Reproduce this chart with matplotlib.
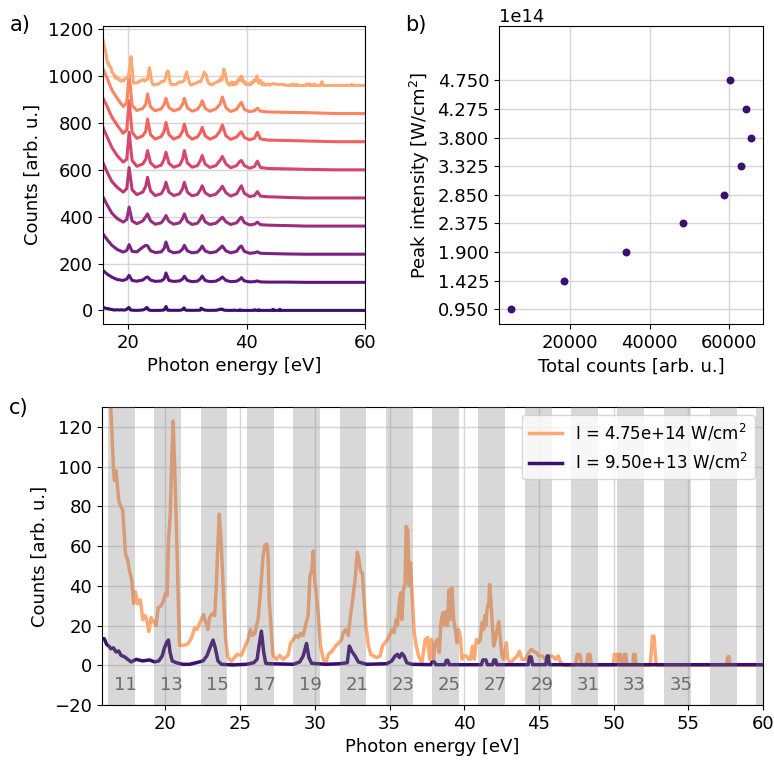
import numpy as np
import matplotlib
matplotlib.use("Agg")
import matplotlib.pyplot as plt

plt.rcParams['font.size'] = 13
plt.rcParams['font.family'] = ['DejaVu Sans']

# --- data ---
peak_intensity = [0.95e14, 1.425e14, 1.9e14, 2.375e14, 2.85e14,
                  3.325e14, 3.8e14, 4.275e14, 4.75e14]
total_counts = [5100, 18500, 34000, 48500, 58700, 63000, 65500, 64300, 60300]

harmonics = list(range(11, 40, 2))
harmonic_labels = list(range(11, 36, 2))
photon_e0 = 1.55  # eV

# highest intensity spectrum (orange)
e_hi = [15.75, 16.0, 16.2, 16.35, 16.51, 16.58, 16.69, 16.87, 17.0, 17.14, 17.32,
        17.47, 17.58, 17.74, 17.87, 17.99, 18.14, 18.32, 18.48, 18.64, 18.77,
        18.88, 19.04, 19.19, 19.37, 19.51, 19.71, 19.89, 19.98, 20.11, 20.2,
        20.31, 20.43, 20.51, 20.6, 20.72, 20.83, 20.94, 21.16, 21.43, 21.61,
        21.79, 21.95, 22.1, 22.28, 22.39, 22.55, 22.68, 22.84, 22.95, 23.13,
        23.29, 23.4, 23.51, 23.6, 23.69, 23.8, 23.91, 24.03, 24.18, 24.41,
        24.63, 24.79, 25.08, 25.3, 25.53, 25.68, 25.82, 25.97, 26.2, 26.35,
        26.53, 26.66, 26.8, 26.87, 26.94, 27.09, 27.2, 27.43, 27.65, 27.88,
        28.21, 28.37, 28.55, 28.73, 28.88, 29.04, 29.22, 29.4, 29.55, 29.67,
        29.8, 29.89, 30.0, 30.07, 30.23, 30.38, 30.56, 30.74, 30.9, 31.05,
        31.23, 31.41, 31.63, 31.79, 31.9, 32.08, 32.24, 32.35, 32.53, 32.69,
        32.84, 32.95, 33.07, 33.18, 33.29, 33.42, 33.58, 33.74, 33.92, 34.14,
        34.36, 34.54, 34.7, 34.86, 34.99, 35.15, 35.3, 35.44, 35.53, 35.66,
        35.75, 35.82, 35.93, 36.04, 36.11, 36.22, 36.31, 36.4, 36.51, 36.65,
        36.78, 36.94, 37.16, 37.23, 37.39, 37.54, 37.68, 37.79, 37.94, 38.06,
        38.21, 38.33, 38.44, 38.57, 38.66, 38.77, 38.88, 38.97, 39.06, 39.18,
        39.29, 39.4, 39.51, 39.62, 39.73, 39.85, 39.96, 40.14, 40.29, 40.41,
        40.56, 40.67, 40.81, 40.96, 41.08, 41.19, 41.3, 41.37, 41.46, 41.52,
        41.64, 41.7, 41.79, 41.88, 41.97, 42.08, 42.2, 42.31, 42.42, 42.53,
        42.64, 42.82, 42.91, 43.09, 43.31, 43.54, 43.69, 43.87, 44.1, 44.32,
        44.5, 44.66, 44.83, 44.99, 45.22, 45.44, 45.66, 45.89, 46.11, 46.29,
        46.45, 46.67, 47.45, 47.56, 47.74, 47.86, 48.17, 48.28, 48.42, 48.5,
        49.98, 50.05, 50.18, 50.25, 50.32, 50.45, 50.52, 50.65, 50.72, 50.82,
        50.88, 51.28, 51.34, 51.44, 51.5, 52.45, 52.6, 52.7, 52.85, 57.55,
        57.65, 57.72, 57.8, 60.0]
counts_hi = [197, 172, 150, 128, 100, 93, 98, 83, 80, 78, 56,
             53, 48, 43, 31, 37, 31, 33, 23, 25, 22,
             17, 24, 22, 20, 29, 30, 33, 36, 35, 63,
             75, 106, 123, 103, 73, 40, 10, 10, 10.5, 12,
             14.7, 19, 18, 21, 23, 25.5, 22, 18, 24, 26,
             25, 40, 61, 76, 66, 50, 30, 13, 4, 2,
             4, 5.5, 5, 9, 13, 18, 15, 16, 23, 36,
             55, 60.5, 61, 55, 33, 16, 5, 3, 5, 3,
             5, 11, 13, 15, 14, 16, 15, 21, 25, 45,
             48, 57.5, 41.6, 38, 25, 10, 3, 1.3, 5.5, 6.4,
             8, 10, 11.4, 13, 16.4, 18, 15, 23, 33, 43,
             57, 53, 47, 46.6, 33, 20, 10, 5.5, 4.7, 3.9,
             4.7, 10, 11.4, 13, 14.7, 18, 16.4, 23, 20, 33,
             36.5, 23, 38, 41.6, 70, 68, 40, 51.6, 36.5, 16.4,
             10, 4.7, 1.3, 4.7, 13, 14, 3, 13, 3, 11.4,
             13, 6.4, 21.5, 26.5, 20, 27, 20, 38, 23, 39,
             23, 18, 11.4, 18, 14.7, 3, 4.7, 4.7, 3, 3,
             9.7, 3, 13, 11.4, 13, 21.5, 18, 25, 20, 28,
             31.5, 40.7, 31.5, 20, 9.7, 13, 18, 22, 13, 4.7,
             3, 11.4, 3, 1.3, 3, 4.7, 7, 3, 3, 6.4,
             8, 7, 6.4, 4.7, 4.7, 3, 4.7, 4.7, 3, 4.7,
             1.3, 0, 0, 5.5, 5.5, 0, 0, 5.5, 5.5, 0,
             0, 5.5, 5.5, 2, 5.5, 5.5, 0, 0, 5.5, 5.5,
             0, 0, 5.5, 5.5, 0, 0, 14.7, 14.7, 0, 0,
             4.4, 4.4, 0, 0]

# lowest intensity spectrum (purple)
e_lo = [15.75, 15.91, 16.06, 16.2, 16.35, 16.51, 16.69, 16.87, 17.02, 17.25,
        17.47, 17.7, 18.03, 18.48, 18.93, 19.26, 19.55, 19.78, 19.93, 20.09,
        20.2, 20.31, 20.45, 20.72, 21.16, 21.61, 22.06, 22.51, 22.77, 23.02,
        23.18, 23.33, 23.51, 23.74, 24.52, 25.41, 25.91, 26.13, 26.26, 26.42,
        26.58, 26.71, 26.98, 28.55, 28.99, 29.22, 29.44, 29.6, 29.78, 30.78,
        31.68, 32.17, 32.31, 32.46, 32.69, 32.91, 33.47, 34.81, 35.15, 35.37,
        35.53, 35.66, 35.82, 35.97, 36.15, 36.49, 37.75, 37.85, 38.0, 38.1,
        38.7, 38.8, 38.9, 39.0, 41.15, 41.25, 41.45, 41.55, 41.9, 41.98,
        42.1, 42.18, 44.28, 44.38, 44.48, 44.58, 45.45, 45.55, 45.62, 45.7,
        60.0]
counts_lo = [13.5, 13.3, 10.5, 9.7, 8.3, 8.8, 6.7, 7.2, 5, 4.3,
             3, 1.7, 3, 2.2, 2.7, 1.7, 2.2, 4.7, 8.8, 11.7,
             12.7, 6.3, 2.2, 1.3, 0.5, 0.5, 1.3, 2.2, 4.7, 9.7,
             12.7, 8.8, 2.2, 0.5, 0.2, 0.5, 1.3, 3, 9.7, 17.2,
             6.3, 1, 0.8, 0.5, 1.7, 4.7, 11, 3.9, 1, 0.5,
             0.8, 1.3, 9.7, 7.2, 4.7, 1.7, 0.5, 0.8, 2.2, 4.7,
             5.5, 3.9, 6, 4.7, 1.3, 0.5, 0.3, 1.7, 1.7, 0.3,
             0.3, 2.5, 2.5, 0.3, 0.3, 2.7, 2.7, 0.3, 0.3, 2.7,
             2.7, 0.3, 0.3, 4.2, 4.2, 0.3, 0.3, 4.7, 4.7, 0.3,
             0.3]

# intermediate spectra (shown only in panel a), on a coarse energy grid
e_mid = [15.75, 16.5, 17.3, 18.2, 19.2, 19.8, 20.2, 20.7, 21.5, 22.5, 23.0, 23.3,
         23.8, 24.6, 25.6, 26.1, 26.4, 26.9, 27.7, 28.7, 29.2, 29.5, 30.0, 30.8,
         31.7, 32.2, 32.5, 33.0, 33.8, 34.8, 35.5, 35.9, 36.5, 37.3, 38.3, 38.8,
         39.1, 39.6, 40.5, 41.3, 41.8, 42.3, 43.5, 45.0, 47.0, 50.0, 55.0, 60.0]
spec_1 = [52, 35, 22, 12, 8, 14, 30, 8, 5, 10, 20, 23,
          10, 4, 6, 15, 40, 8, 4, 6, 14, 26, 8, 3,
          5, 15, 27, 8, 3, 5, 14, 23, 8, 3, 5, 12,
          20, 6, 2, 3, 6, 2, 1, 1, 1, 0, 0, 0]
spec_2 = [88, 62, 38, 20, 9, 16, 41, 12, 10, 30, 38, 36,
          15, 7, 10, 25, 52, 15, 6, 10, 22, 38, 14, 6,
          9, 22, 35, 14, 6, 10, 25, 35, 14, 6, 12, 30,
          35, 12, 4, 6, 10, 4, 3, 2, 1, 0, 0, 0]
spec_3 = [127, 90, 55, 32, 17, 28, 81, 22, 10, 22, 40, 52,
          22, 8, 14, 30, 45, 20, 8, 14, 32, 52, 20, 7,
          12, 30, 45, 18, 7, 12, 28, 38, 18, 7, 14, 30,
          38, 15, 5, 8, 17, 6, 4, 3, 2, 0, 0, 0]
spec_4 = [153, 110, 70, 45, 25, 40, 130, 35, 14, 25, 50, 88,
          30, 10, 18, 40, 67, 25, 10, 18, 40, 67, 25, 9,
          15, 35, 52, 22, 9, 16, 35, 50, 22, 8, 18, 40,
          52, 20, 6, 10, 27, 8, 5, 4, 2, 0, 0, 0]
spec_5 = [184, 140, 95, 60, 33, 45, 160, 40, 15, 25, 45, 82,
          30, 11, 20, 45, 75, 28, 11, 20, 45, 82, 30, 11,
          18, 40, 61, 25, 10, 18, 40, 57, 25, 9, 18, 35,
          40, 18, 7, 14, 37, 10, 6, 5, 4, 2, 0, 0]
spec_6 = [189, 150, 105, 70, 36, 50, 175, 40, 14, 25, 45, 96,
          30, 11, 22, 45, 82, 30, 11, 22, 45, 75, 28, 11,
          20, 40, 61, 25, 11, 22, 45, 71, 25, 10, 20, 35,
          43, 18, 8, 15, 40, 12, 7, 6, 5, 3, 0, 0]
spec_7 = [194, 150, 100, 65, 30, 45, 170, 35, 13, 22, 40, 84,
          28, 12, 20, 40, 65, 25, 12, 20, 40, 65, 25, 10,
          18, 35, 55, 22, 10, 20, 40, 70, 25, 9, 18, 38,
          48, 18, 8, 12, 23, 10, 7, 6, 5, 4, 0, 0]

spectra = [(e_lo, counts_lo), (e_mid, spec_1), (e_mid, spec_2), (e_mid, spec_3),
           (e_mid, spec_4), (e_mid, spec_5), (e_mid, spec_6), (e_mid, spec_7),
           (e_hi, counts_hi)]

colors = plt.cm.magma(np.linspace(0.2, 0.82, len(spectra)))
offset = 120
grid_kw = dict(color='#d6d6d6', linewidth=1.0)

fig = plt.figure(figsize=(7.74, 7.65), dpi=100)
ax_a = fig.add_axes([0.1327, 0.5765, 0.3395, 0.3899])
ax_b = fig.add_axes([0.6447, 0.5765, 0.3407, 0.3899])
ax_c = fig.add_axes([0.1318, 0.0784, 0.854, 0.3895])

# a) stacked spectra
for i, (e, c) in enumerate(spectra):
    ax_a.plot(e, np.array(c) + i * offset, color=colors[i], lw=2.2)
ax_a.set_xlim(15.75, 60)
ax_a.set_xticks([20, 40, 60])
ax_a.set_yticks(range(0, 1201, 200))
ax_a.grid(True, **grid_kw)
ax_a.set_axisbelow(True)
ax_a.set_xlabel('Photon energy [eV]')
ax_a.set_ylabel('Counts [arb. u.]')

# b) total counts vs intensity
ax_b.scatter(total_counts, peak_intensity, color=colors[0], s=22, zorder=3)
ax_b.set_yticks(peak_intensity)
ax_b.set_ylim(0.707e14, 5.656e14)
ax_b.grid(True, **grid_kw)
ax_b.set_axisbelow(True)
ax_b.set_xlabel('Total counts [arb. u.]')
ax_b.set_ylabel('Peak intensity [W/cm$^2$]')

# c) two spectra with harmonic bands
ax_c.plot(e_hi, counts_hi, color=colors[-1], lw=2.5,
          label='I = %.2e W/cm$^2$' % peak_intensity[-1])
ax_c.plot(e_lo, counts_lo, color=colors[0], lw=2.5,
          label='I = %.2e W/cm$^2$' % peak_intensity[0])
for n in harmonics:
    ax_c.axvspan(n * photon_e0 - 0.9, n * photon_e0 + 0.9, color='gray',
                 alpha=0.3, lw=0, zorder=3)
for n in harmonic_labels:
    ax_c.text(n * photon_e0 + 0.25, -10, str(n), color='0.42', ha='center',
              va='center', fontsize=13, zorder=4)
ax_c.set_xlim(15.75, 60)
ax_c.set_ylim(-20, 130)
ax_c.set_yticks(range(-20, 121, 20))
ax_c.grid(True, **grid_kw)
ax_c.set_xlabel('Photon energy [eV]')
ax_c.set_ylabel('Counts [arb. u.]')
leg = ax_c.legend(loc='upper right', fontsize=12)
leg.set_zorder(5)

fig.text(0.012, 0.967, 'a)', fontsize=15, va='center')
fig.text(0.523, 0.967, 'b)', fontsize=15, va='center')
fig.text(0.012, 0.467, 'c)', fontsize=15, va='center')

fig.savefig('out.png', dpi=100)
